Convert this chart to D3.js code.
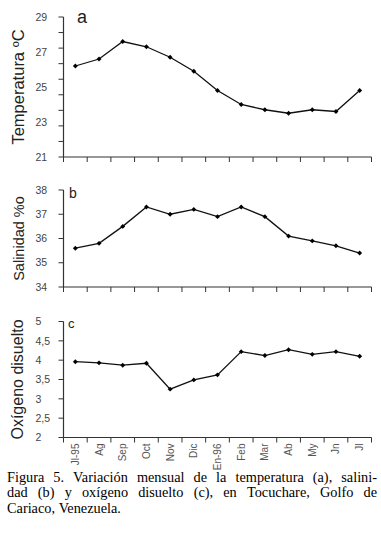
<!DOCTYPE html>
<html>
<head>
<meta charset="utf-8">
<script src="https://cdn.jsdelivr.net/npm/d3@7"></script>
<style>
  html, body { margin: 0; padding: 0; background: #fff; }
  svg { display: block; }
</style>
</head>
<body>
<svg id="chart" width="381" height="537"></svg>
<script>
// ---- data ----
const months = ["Jl-95", "Ag", "Sep", "Oct", "Nov", "Dic", "En-96", "Feb", "Mar", "Ab", "My", "Jn", "Jl"];
const temperatura = [26.2, 26.6, 27.6, 27.3, 26.7, 25.9, 24.8, 24.0, 23.7, 23.5, 23.7, 23.6, 24.8];
const salinidad = [35.6, 35.8, 36.5, 37.3, 37.0, 37.2, 36.9, 37.3, 36.9, 36.1, 35.9, 35.7, 35.4];
const oxigeno = [3.96, 3.93, 3.87, 3.92, 3.25, 3.49, 3.62, 4.22, 4.12, 4.27, 4.15, 4.22, 4.10];
const tempTicks = [29, 27, 25, 23, 21];
const salTicks = [38, 37, 36, 35, 34];
const oxTicks = [5, 4.5, 4, 3.5, 3, 2.5, 2];
const tempMinorCount = 10;
const captionLines = [
  "Figura 5. Variación mensual de la temperatura (a), salini-",
  "dad (b) y oxígeno disuelto (c), en Tocuchare, Golfo de",
  "Cariaco, Venezuela."
];

const svg = d3.select("#chart");
svg.append("rect").attr("width", 381).attr("height", 537).attr("fill", "#fff");

const x = d3.scaleBand().domain(months).range([63.5, 371.5]);
const sansFont = "'Liberation Sans', Arial, Helvetica, sans-serif";
const axisColor = "#333";

const panels = [
  { values: temperatura, domain: [21, 29], range: [157, 17], labels: tempTicks,
    minor: d3.range(tempMinorCount).map(i => 21 + i * 8 / (tempMinorCount - 1)),
    title: "Temperatura ºC", titleSize: 16.5, titleX: 24, letter: "a", letterSize: 18, letterX: 77, letterY: 23,
    fmt: d => d3.format("d")(d) },
  { values: salinidad, domain: [34, 38], range: [287, 190], labels: salTicks,
    minor: salTicks,
    title: "Salinidad %o", titleSize: 14.5, titleX: 24, letter: "b", letterSize: 14, letterX: 69, letterY: 198,
    fmt: d => d3.format("d")(d) },
  { values: oxigeno, domain: [2, 5], range: [437.5, 321.5], labels: oxTicks,
    minor: oxTicks,
    title: "Oxígeno disuelto", titleSize: 16, titleX: 23, letter: "c", letterSize: 13, letterX: 68, letterY: 328,
    fmt: d => String(d).replace(".", ",") }
];

panels.forEach((p, pi) => {
  const y = d3.scaleLinear().domain(p.domain).range(p.range);
  const g = svg.append("g");
  const yTop = y(p.domain[1]), yBot = y(p.domain[0]);
  const x0 = x.range()[0], x1 = x.range()[1];

  // y axis line + ticks
  g.append("line").attr("x1", x0).attr("x2", x0).attr("y1", yTop).attr("y2", yBot)
    .attr("stroke", axisColor).attr("stroke-width", 1.2);
  g.selectAll(".ytick").data(p.minor).join("line")
    .attr("x1", x0 - 5).attr("x2", x0).attr("y1", d => y(d)).attr("y2", d => y(d))
    .attr("stroke", axisColor).attr("stroke-width", 1);
  g.selectAll(".ylab").data(p.labels).join("text")
    .attr("x", 35.5).attr("y", d => y(d)).attr("dy", "0.35em")
    .attr("font-family", sansFont).attr("font-size", 10.5).attr("fill", "#444")
    .text(p.fmt);

  // x axis line + ticks at band boundaries
  g.append("line").attr("x1", x0).attr("x2", x1).attr("y1", yBot).attr("y2", yBot)
    .attr("stroke", axisColor).attr("stroke-width", 1.2);
  const bounds = months.map(m => x(m)).concat([x1]);
  g.selectAll(".xtick").data(bounds).join("line")
    .attr("x1", d => d).attr("x2", d => d).attr("y1", yBot).attr("y2", yBot + 5)
    .attr("stroke", axisColor).attr("stroke-width", 1);

  // title
  const cy = (yTop + yBot) / 2;
  g.append("text")
    .attr("transform", `translate(${p.titleX},${cy}) rotate(-90)`)
    .attr("text-anchor", "middle")
    .attr("font-family", sansFont).attr("font-size", p.titleSize).attr("fill", "#222")
    .text(p.title);

  // panel letter
  g.append("text").attr("x", p.letterX).attr("y", p.letterY)
    .attr("font-family", sansFont).attr("font-size", p.letterSize).attr("fill", "#222")
    .text(p.letter);

  // line + markers
  const pts = months.map((m, i) => [x(m) + x.bandwidth() / 2, y(p.values[i])]);
  g.append("path").attr("d", d3.line()(pts)).attr("fill", "none")
    .attr("stroke", "#111").attr("stroke-width", 1.3);
  g.selectAll(".mk").data(pts).join("path")
    .attr("d", d3.symbol(d3.symbolSquare, 12)())
    .attr("transform", d => `translate(${d[0]},${d[1]}) rotate(45)`)
    .attr("fill", "#000");

  // x labels on bottom panel
  if (pi === 2) {
    g.selectAll(".xlab").data(months).join("text")
      .attr("transform", m => `translate(${x(m) + x.bandwidth() / 2 + 3.5},${yBot + 6}) rotate(-90)`)
      .attr("text-anchor", "end")
      .attr("font-family", sansFont).attr("font-size", 10).attr("fill", "#555")
      .text(m => m);
  }
});

// caption (justified)
const serif = "'Liberation Serif', 'Times New Roman', serif";
const capLeft = 7, capRight = 377, baselines = [481.5, 497, 512.5];
captionLines.forEach((line, li) => {
  const words = line.split(" ");
  const justify = li < captionLines.length - 1;
  const nodes = words.map(w => svg.append("text")
    .attr("y", baselines[li])
    .attr("font-family", serif).attr("font-size", 14.3).attr("fill", "#000")
    .text(w));
  const widths = nodes.map(n => n.node().getComputedTextLength());
  const total = d3.sum(widths);
  const gap = justify ? (capRight - capLeft - total) / (words.length - 1) : 3.6;
  let cx = capLeft;
  nodes.forEach((n, i) => { n.attr("x", cx); cx += widths[i] + gap; });
});
</script>
</body>
</html>
